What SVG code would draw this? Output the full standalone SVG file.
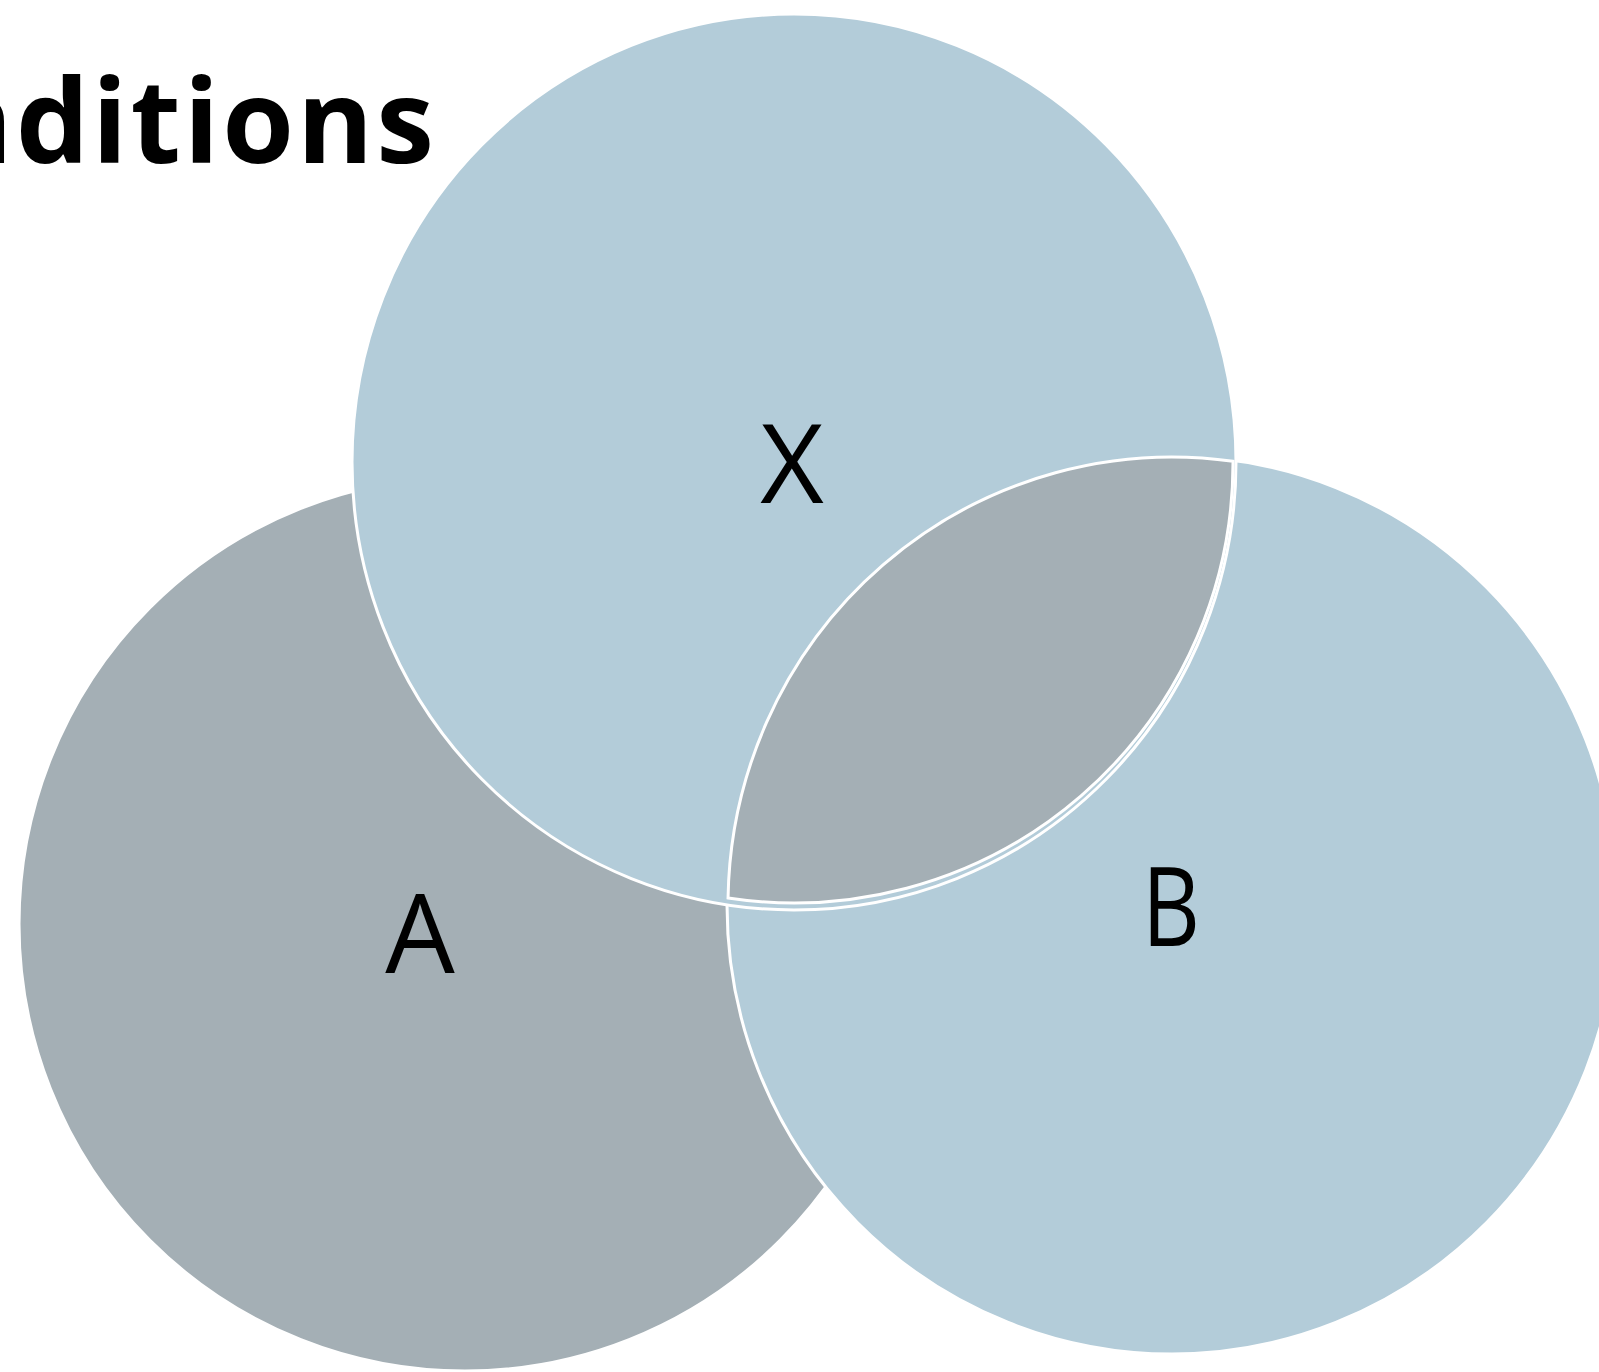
<svg xmlns="http://www.w3.org/2000/svg" width="1599" height="1372" viewBox="0 0 1599 1372">
  <style>
    .set { stroke: #FFFFFF; stroke-width: 3; }
    .grey { fill: #A4AFB5; }
    .blue { fill: #B3CCD9; }
    .label { font-family: "Open Sans", "Noto Sans", "DejaVu Sans", sans-serif; font-size: 110px; fill: #000000; text-anchor: middle; }
    .title { font-family: "Open Sans", "Noto Sans", "DejaVu Sans", sans-serif; font-size: 116px; font-weight: bold; letter-spacing: 3px; fill: #000000; text-anchor: end; }
  </style>
  <rect x="0" y="0" width="1599" height="1372" fill="#FFFFFF"/>

  <text class="title" x="437" y="163">nditions</text>

  <!-- set A, bottom left -->
  <g id="set-a">
    <ellipse class="set grey" cx="465" cy="924" rx="446" ry="447"/>
  </g>

  <!-- set B, bottom right -->
  <g id="set-b">
    <ellipse class="set blue" cx="1172" cy="905" rx="445" ry="449"/>
  </g>

  <!-- set X, top -->
  <g id="set-x">
    <ellipse class="set blue" cx="794" cy="462" rx="442" ry="448"/>
  </g>

  <!-- overlap of X and B -->
  <g id="overlap-xb">
    <path class="set grey" d="M 728.05 898 A 444 448 0 0 1 1233 461.3 A 439 440 0 0 1 728.05 898 Z"/>
  </g>

  <g id="labels">
    <text class="label" x="792" y="503">X</text>
    <text class="label" x="420" y="973">A</text>
    <text class="label" x="1171" y="946" textLength="58" lengthAdjust="spacingAndGlyphs">B</text>
  </g>

  <g id="connectors"/>
</svg>
